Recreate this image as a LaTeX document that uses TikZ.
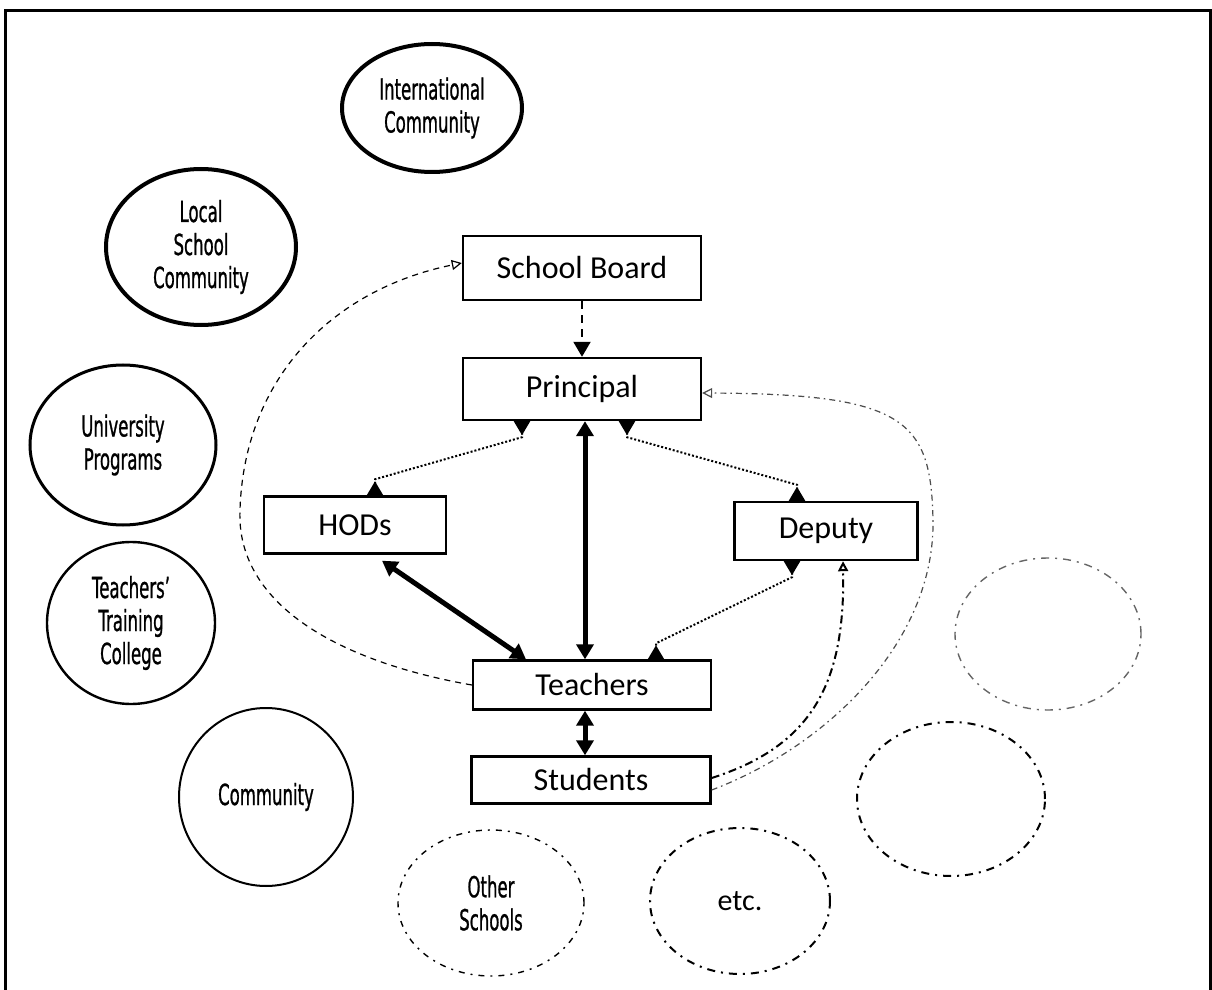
\documentclass[tikz,border=0pt]{standalone}
\usepackage{fontspec}
\setmainfont{Carlito}
\newfontfamily\ovalfont[FakeStretch=0.57,FakeBold=0.8]{DejaVu Sans}
\usetikzlibrary{shapes.geometric,arrows.meta,calc}

\begin{document}
\begin{tikzpicture}[x=0.5pt,y=-0.5pt,
  box/.style={draw,line width=1.2pt,inner sep=0pt,font=\fontsize{16}{19}\selectfont},
  oval/.style={ellipse,draw,inner sep=0pt,align=center,
    font=\ovalfont\fontsize{14.5}{16.5}\selectfont},
  dashdot/.style={dash pattern=on 4pt off 3pt on 1pt off 3pt},
  fatlink/.style={line width=2.5pt,{Triangle[length=7.5pt,width=8.5pt]}-{Triangle[length=7.5pt,width=8.5pt]}},
  dotlink/.style={line width=1pt,dash pattern=on 1pt off 1pt,
    {Triangle[reversed,length=7pt,width=8pt]}-{Triangle[reversed,length=7pt,width=8pt]}},
  openhead/.style={-{Triangle[open,length=5pt,width=5pt]}}
]
\useasboundingbox (0,0) rectangle (1212,990);

% frame
\draw[line width=1.5pt] (5,990) -- (5,11) -- (1210,11) -- (1210,990);

% outer community ovals
\node[oval,line width=2pt,minimum width=90pt,minimum height=64pt] (intl) at (432,108) {International\\Community};
\node[oval,line width=2pt,minimum width=95pt,minimum height=78pt] (local) at (201,247) {Local\\School\\Community};
\node[oval,line width=1.5pt,minimum width=93pt,minimum height=80pt] (univ) at (123,445) {University\\Programs};
\node[oval,line width=1.2pt,minimum width=84pt,minimum height=81pt] (ttc) at (131,623) {Teachers’\\Training\\College};
\node[oval,line width=1pt,minimum width=87pt,minimum height=89pt] (comm) at (266,797) {Community};
\node[oval,line width=0.7pt,dash pattern=on 3pt off 3pt on 1pt off 3pt,minimum width=93pt,minimum height=73pt] (other) at (491,903) {Other\\Schools};
\node[oval,line width=1pt,dashdot,minimum width=90pt,minimum height=73pt,font=\fontsize{15}{18}\selectfont] (etc) at (740,901) {etc.};
\node[oval,line width=1pt,dashdot,minimum width=94pt,minimum height=77pt] (blankA) at (951,799) {};
\node[oval,line width=0.7pt,draw=black!60,dashdot,minimum width=93pt,minimum height=76pt] (blankB) at (1048,634) {};

% school hierarchy
\node[box,minimum width=119pt,minimum height=32pt] (board) at (582,268) {School Board};
\node[box,minimum width=119pt,minimum height=31pt] (principal) at (582,389) {Principal};
\node[box,minimum width=91pt,minimum height=28.5pt] (hods) at (355,525) {HODs};
\node[box,minimum width=91.5pt,minimum height=29pt] (deputy) at (826,531) {Deputy};
\node[box,minimum width=119pt,minimum height=24.5pt] (teachers) at (592,685) {Teachers};
\node[box,minimum width=119.5pt,minimum height=23.5pt] (students) at (591,780) {\raisebox{-2pt}{Students}};

% reporting lines
\draw[line width=1pt,dash pattern=on 4pt off 3pt,-{Triangle[length=7.5pt,width=8.5pt]}] (board) -- (principal);
\draw[fatlink] ($(principal.south)+(3,0)$) -- ($(teachers.north)+(-7,0)$);
\draw[fatlink] ($(hods.south)+(27,6)$) -- ($(teachers.north)+(-66,0)$);
\draw[fatlink] ($(teachers.south)+(-7,0)$) -- ($(students.north)+(-6,0)$);

\draw[dotlink] ($(principal.south)+(-60,0)$) -- ++(0,16) -- ($(hods.north)+(20,-16)$) -- ($(hods.north)+(20,0)$);
\draw[dotlink] ($(principal.south)+(45,0)$) -- ++(0,16) -- ($(deputy.north)+(-29,-16)$) -- ($(deputy.north)+(-29,0)$);
\draw[dotlink] ($(deputy.south)+(-34,0)$) -- ++(0,16) -- ($(teachers.north)+(64,-16)$) -- ($(teachers.north)+(64,0)$);

% feedback loops
\draw[line width=0.6pt,dash pattern=on 3pt off 2.5pt,openhead]
  (teachers.west) .. controls (330,660) and (236,600) .. (240,510)
  .. controls (244,380) and (330,290) .. ($(board.west)+(0,-5)$);
\draw[line width=1pt,dash pattern=on 4pt off 2pt on 1pt off 2pt,openhead]
  ($(students.east)+(0,-2)$) .. controls (815,745) and (845,680) .. ($(deputy.south)+(17,0)$);
\draw[line width=0.6pt,draw=black!70,dash pattern=on 3pt off 2pt on 0.8pt off 2pt,openhead]
  ($(students.east)+(0,10)$) .. controls (830,745) and (935,640) .. (933,520)
  .. controls (931,420) and (905,394) .. ($(principal.east)+(0,4)$);
\end{tikzpicture}
\end{document}
